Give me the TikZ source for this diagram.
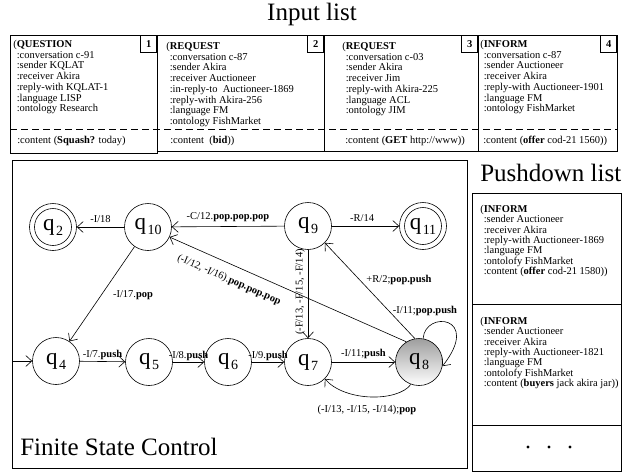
\documentclass[tikz,border=0pt]{standalone}
\usepackage{fontspec}
\setmainfont{Liberation Serif}
\usetikzlibrary{arrows.meta}
\newcommand{\qsub}[1]{q\kern1.5pt\raisebox{-5pt}{\fontsize{14}{14}\selectfont #1}}
\begin{document}
\begin{tikzpicture}[x=1pt,y=-1pt,line width=0.6pt,
  >={Straight Barb[length=6pt,width=11pt,line width=0.6pt]},
  msg/.style={anchor=north west,align=left,inner sep=0pt,font=\fontsize{10.5}{10.7}\selectfont},
  pmsg/.style={anchor=north west,align=left,inner sep=0pt,font=\fontsize{10.5}{10.3}\selectfont},
  cont/.style={anchor=west,inner sep=0pt,font=\fontsize{10.5}{12}\selectfont},
  numbox/.style={draw,minimum width=16pt,minimum height=17pt,inner sep=0pt,anchor=north east,font=\fontsize{10.5}{12}\selectfont\bfseries},
  big/.style={inner sep=0pt,font=\fontsize{25}{28}\selectfont},
  state/.style={circle,draw,minimum size=47pt,inner sep=0pt,font=\fontsize{23}{23}\selectfont},
  lbl/.style={inner sep=1pt,font=\fontsize{10.5}{12}\selectfont},
  sep/.style={dash pattern=on 7pt off 4pt}]
\useasboundingbox (0,0) rectangle (624,474);

% ---------- Input list ----------
\node[big,anchor=base] (title) at (312,20) {Input list};
\draw (10,35) rectangle (157,153);
\draw (157,35) rectangle (324,151);
\draw (324,35) rectangle (478,151);
\draw (478,35) rectangle (617,151);
\draw[sep] (10,129) -- (617,129);
\node[numbox] (n1) at (157,35) {1};
\node[numbox] (n2) at (324,35) {2};
\node[numbox] (n3) at (478,35) {3};
\node[numbox] (n4) at (617,35) {4};

\node[msg] (m1) at (13,40) {(\textbf{QUESTION}\\
\hspace*{3.5pt}:conversation c-91\\
\hspace*{3.5pt}:sender KQLAT\\
\hspace*{3.5pt}:receiver Akira\\
\hspace*{3.5pt}:reply-with KQLAT-1\\
\hspace*{3.5pt}:language LISP\\
\hspace*{3.5pt}:ontology Research};
\node[cont] (c1) at (17,141) {:content (\textbf{Squash?} today)};

\node[msg] (m2) at (166,42) {(\textbf{REQUEST}\\
\hspace*{3.5pt}:conversation c-87\\
\hspace*{3.5pt}:sender Akira\\
\hspace*{3.5pt}:receiver Auctioneer\\
\hspace*{3.5pt}:in-reply-to\ \ Auctioneer-1869\\
\hspace*{3.5pt}:reply-with Akira-256\\
\hspace*{3.5pt}:language FM\\
\hspace*{3.5pt}:ontology FishMarket};
\node[cont] (c2) at (170,141) {:content\ \ (\textbf{bid}))};

\node[msg] (m3) at (342,42) {(\textbf{REQUEST}\\
\hspace*{3.5pt}:conversation c-03\\
\hspace*{3.5pt}:sender Akira\\
\hspace*{3.5pt}:receiver Jim\\
\hspace*{3.5pt}:reply-with Akira-225\\
\hspace*{3.5pt}:language ACL\\
\hspace*{3.5pt}:ontology JIM};
\node[cont] (c3) at (345,141) {:content (\textbf{GET} http://www))};

\node[msg] (m4) at (480,40) {(\textbf{INFORM}\\
\hspace*{3.5pt}:conversation c-87\\
\hspace*{3.5pt}:sender Auctioneer\\
\hspace*{3.5pt}:receiver Akira\\
\hspace*{3.5pt}:reply-with Auctioneer-1901\\
\hspace*{3.5pt}:language FM\\
\hspace*{3.5pt}:ontology FishMarket};
\node[cont] (c4) at (483,141) {:content (\textbf{offer} cod-21 1560))};

% ---------- Finite State Control ----------
\draw (12,160) rectangle (467,468);
\node[big,anchor=base west] (fsc) at (20,455) {Finite State Control};

\node[state] (q2) at (53,227) {\qsub{2}};
\draw (q2.center) circle[radius=18.5];
\node[state] (q10) at (148,227) {\qsub{10}};
\node[state] (q9) at (308,226) {\qsub{9}};
\node[state] (q11) at (423,226) {\qsub{11}};
\draw (q11.center) circle[radius=18.5];
\node[state] (q4) at (56,361) {\qsub{4}};
\node[state] (q5) at (149,362) {\qsub{5}};
\node[state] (q6) at (228,362) {\qsub{6}};
\node[state] (q7) at (308,362) {\qsub{7}};
\node[state,top color=black!38,bottom color=white] (q8) at (419,362) {\qsub{8}};
\coordinate (start) at (12,361);

\draw[->] (q10) -- (q2.east) node[lbl,pos=0.5,above=3pt] (l1) {-I/18};
\draw[->] (q9) -- (q10) node[lbl,pos=0.5,above=3pt] (l2) {-C/12.\textbf{pop.pop.pop}};
\draw[->] (q9) -- (q11.west) node[lbl,pos=0.45,above=3pt] (l3) {-R/14};
\draw[->] (q10) -- (q4);
\node[lbl] (l4) at (133,295) {-I/17.\textbf{pop}};
\draw[->] (start) -- (q4);
\draw[->] (q4) -- (q5) node[lbl,pos=0.5,above=0pt] (l5) {-I/7.\textbf{push}};
\draw[->] (q5) -- (q6) node[lbl,pos=0.5,above=0pt] (l6) {-I/8.\textbf{push}};
\draw[->] (q6) -- (q7) node[lbl,pos=0.5,above=0pt] (l7) {-I/9.\textbf{push}};
\draw[->] (q7) -- (q8) node[lbl,pos=0.5,above=2pt] (l8) {-I/11;\textbf{push}};
\draw[->] (q9) -- (q7);
\node[lbl,rotate=90] (l9) at (300,292) {(-F/13, -F/15, -F/14)};
\draw[->] (q8.122) -- (q10.-25);
\node[lbl,rotate=-23.5] (l10) at (229,280) {(-I/12, -I/16).\textbf{pop.pop.pop}};
\draw[->] (q8.100) -- (q9.-45);
\node[lbl] (l11) at (399,280) {+R/2;\textbf{pop.push}};
\draw[->] (q8.80) .. controls (425,310) and (482,316) .. (q8.-10);
\node[lbl] (l12) at (425,311) {-I/11;\textbf{pop.push}};
\draw[->] (q8.250) .. controls (398,402) and (345,402) .. (q7.-45);
\node[lbl] (l13) at (367,410) {(-I/13, -I/15, -I/14);\textbf{pop}};

% ---------- Pushdown list ----------
\node[big,anchor=west] (pdl) at (480,173) {Pushdown list};
\draw (472,193) rectangle (621,471);
\draw (472,304) -- (621,304);
\draw (472,425) -- (621,425);
\node[pmsg] (p1) at (480,205) {(\textbf{INFORM}\\
\hspace*{3.5pt}:sender Auctioneer\\
\hspace*{3.5pt}:receiver Akira\\
\hspace*{3.5pt}:reply-with Auctioneer-1869\\
\hspace*{3.5pt}:language FM\\
\hspace*{3.5pt}:ontolofy FishMarket\\
\hspace*{3.5pt}:content (\textbf{offer} cod-21 1580))};
\node[pmsg] (p2) at (480,317) {(\textbf{INFORM}\\
\hspace*{3.5pt}:sender Auctioneer\\
\hspace*{3.5pt}:receiver Akira\\
\hspace*{3.5pt}:reply-with Auctioneer-1821\\
\hspace*{3.5pt}:language FM\\
\hspace*{3.5pt}:ontolofy FishMarket\\
\hspace*{3.5pt}:content (\textbf{buyers} jack akira jar))};
\fill (528,447) circle[radius=1.6];
\fill (549,447) circle[radius=1.6];
\fill (570,447) circle[radius=1.6];
\end{tikzpicture}
\end{document}
